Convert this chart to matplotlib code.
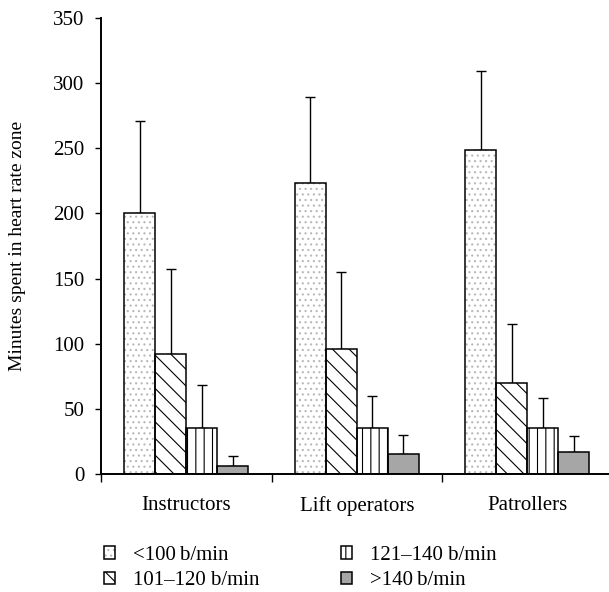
import numpy as np
import matplotlib
matplotlib.use('Agg')
import matplotlib.pyplot as plt
from matplotlib.legend_handler import HandlerTuple

plt.rcParams['font.family'] = ['Liberation Serif', 'DejaVu Serif']
plt.rcParams['hatch.linewidth'] = 0.8

# Datos (media y desviación, solo barra superior)
grupos = ['Instructors', 'Lift operators', 'Patrollers']
zonas = ['<100\u2009b/min', '101–120 b/min', '121–140 b/min', '>140\u2009b/min']

menos_100 = [200, 223, 249]
de_101_120 = [92, 96, 70]
de_121_140 = [35, 35, 35]
mas_140 = [6, 15, 17]

sd_menos_100 = [71, 66, 60]
sd_101_120 = [65, 59, 45]
sd_121_140 = [33, 25, 23]
sd_mas_140 = [8, 15, 12]

series = [menos_100, de_101_120, de_121_140, mas_140]
errores = [sd_menos_100, sd_101_120, sd_121_140, sd_mas_140]

# estilo de cada zona: relleno, color del rayado, rayado
rellenos = ['white', 'white', 'white', '#a6a6a6']
color_rayado = ['#b8b8b8', 'black', 'black', 'black']
rayados = ['...', '\\\\', '||', None]

fig = plt.figure(figsize=(6.09, 5.92), dpi=100)
ax = fig.add_axes([101/609, 118/592, 508/609, 456/592])

x = np.arange(len(grupos))
ancho = 0.182
handles = []
for i, vals in enumerate(series):
    pos = x + (i - 1.5) * ancho
    capa = ax.bar(pos, vals, ancho, color=rellenos[i], edgecolor=color_rayado[i],
                  hatch=rayados[i], linewidth=0, zorder=2)
    borde = ax.bar(pos, vals, ancho, fill=False, edgecolor='black', linewidth=1.1,
                   zorder=3)
    ax.errorbar(pos, vals, yerr=[np.zeros(len(vals)), errores[i]], fmt='none',
                ecolor='black', elinewidth=1.0, capsize=3.8, capthick=1.0, zorder=1)
    handles.append((capa[0], borde[0]))

ax.set_ylim(0, 350)
ax.set_yticks(np.arange(0, 351, 50))
ax.set_xlim(-0.5, -0.5 + 508/170.5)

ax.set_xticks([-0.5, 0.5, 1.5])
ax.set_xticklabels([])
ax.set_xticks(x, minor=True)
ax.set_xticklabels(grupos, minor=True, fontsize=15)
ax.tick_params(axis='x', which='major', direction='out', length=5.8, width=1.0)
ax.tick_params(axis='x', which='minor', length=0, pad=16)
ax.tick_params(axis='y', direction='out', length=4.0, width=1.0, pad=8, labelsize=15)

for lado in ['top', 'right']:
    ax.spines[lado].set_visible(False)
for lado in ['left', 'bottom']:
    ax.spines[lado].set_linewidth(1.4)

fig.text(18/609, 1 - 246/592, 'Minutes spent in heart rate zone', rotation=90,
         ha='center', va='center', fontsize=14)

opciones = dict(loc='upper left', frameon=False, fontsize=15, borderpad=0,
                borderaxespad=0, handlelength=0.55, handleheight=0.55,
                handletextpad=0.85, labelspacing=0.3,
                handler_map={tuple: HandlerTuple(ndivide=1, pad=0)})
leg1 = fig.legend(handles[:2], zonas[:2], bbox_to_anchor=(104/609, 1 - 546/592),
                  **opciones)
leg2 = fig.legend(handles[2:], zonas[2:], bbox_to_anchor=(341/609, 1 - 546/592),
                  **opciones)

fig.savefig('out.png', dpi=100)
